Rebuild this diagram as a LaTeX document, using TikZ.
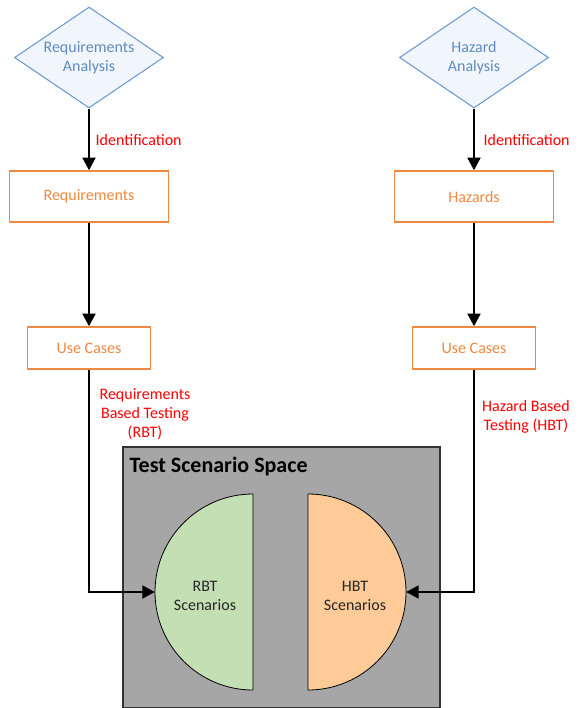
\documentclass[tikz,border=0pt]{standalone}
\usepackage{fontspec}
\setmainfont{Carlito}
\usepackage{xcolor}
\usetikzlibrary{shapes.geometric, arrows.meta, positioning}

\definecolor{anablue}{HTML}{6A9BD3}
\definecolor{anafill}{HTML}{F1F6FC}
\definecolor{itemorange}{HTML}{F0883F}
\definecolor{labelred}{HTML}{FF0000}
\definecolor{spacegray}{HTML}{A6A6A6}
\definecolor{rbtgreen}{HTML}{C5DFB4}
\definecolor{hbtorange}{HTML}{FDCA98}

\begin{document}
\begin{tikzpicture}[x=0.75pt, y=-0.75pt,
    every node/.style={font=\fontsize{12}{14.4}\selectfont},
    analysis/.style={diamond, draw=anablue, fill=anafill, line width=0.8pt, text=anablue!90!black,
      inner sep=0pt, aspect=1.47, minimum width=111.75pt, minimum height=75.75pt, align=center},
    item/.style={rectangle, draw=itemorange, line width=1pt, text=itemorange, fill=white},
    bigitem/.style={item, minimum width=119.25pt, minimum height=38.25pt},
    smallitem/.style={item, minimum width=92.25pt, minimum height=31.5pt},
    redlabel/.style={text=labelred, align=center},
    flow/.style={line width=2.1pt, -{Triangle[length=9.5pt, width=9.5pt]}}]
  \useasboundingbox (0,0) rectangle (581,708);

  % Analysis
  \node[analysis] (reqa) at (89,57.5) {Requirements\\Analysis};
  \node[analysis] (haza) at (474,57.5) {Hazard\\Analysis};

  % Identified items
  \node[bigitem] (req) at (89,196.5) {Requirements};
  \node[bigitem] (haz) at (474,196.5) {Hazards};
  \node[smallitem] (ucl) at (89,348) {Use Cases};
  \node[smallitem] (ucr) at (474,348) {Use Cases};

  % Test scenario space
  \draw[fill=spacegray, draw=black!80, line width=0.8pt] (123,447) rectangle (440,707.5);
  \node[anchor=west, font=\fontsize{16.5}{18}\selectfont\bfseries] (space) at (125,467) {Test Scenario Space};
  \draw[fill=rbtgreen, draw=black, line width=0.6pt] (253,494) arc (-90:-270:98) -- cycle;
  \draw[fill=hbtorange, draw=black, line width=0.6pt] (308,494) arc (-90:90:98) -- cycle;
  \coordinate (rbtw) at (155,592);
  \coordinate (hbte) at (406,592);
  \node[align=center, text=black!85] (rbt) at (205,596) {RBT\\Scenarios};
  \node[align=center, text=black!85] (hbt) at (355,596) {HBT\\Scenarios};

  % Connectors
  \draw[flow] (reqa.south) -- (req.north);
  \draw[flow] (haza.south) -- (haz.north);
  \draw[flow] (req.south) -- (ucl.north);
  \draw[flow] (haz.south) -- (ucr.north);
  \draw[flow] (ucl.south) |- (rbtw);
  \draw[flow] (ucr.south) |- (hbte);

  % Labels
  \node[redlabel, anchor=west] (idl) at (91,140) {Identification};
  \node[redlabel, anchor=west] (idr) at (479,140) {Identification};
  \node[redlabel] (rbtl) at (145,414) {Requirements\\Based Testing\\(RBT)};
  \node[redlabel] (hbtl) at (526,417) {Hazard Based\\Testing (HBT)};
\end{tikzpicture}
\end{document}
